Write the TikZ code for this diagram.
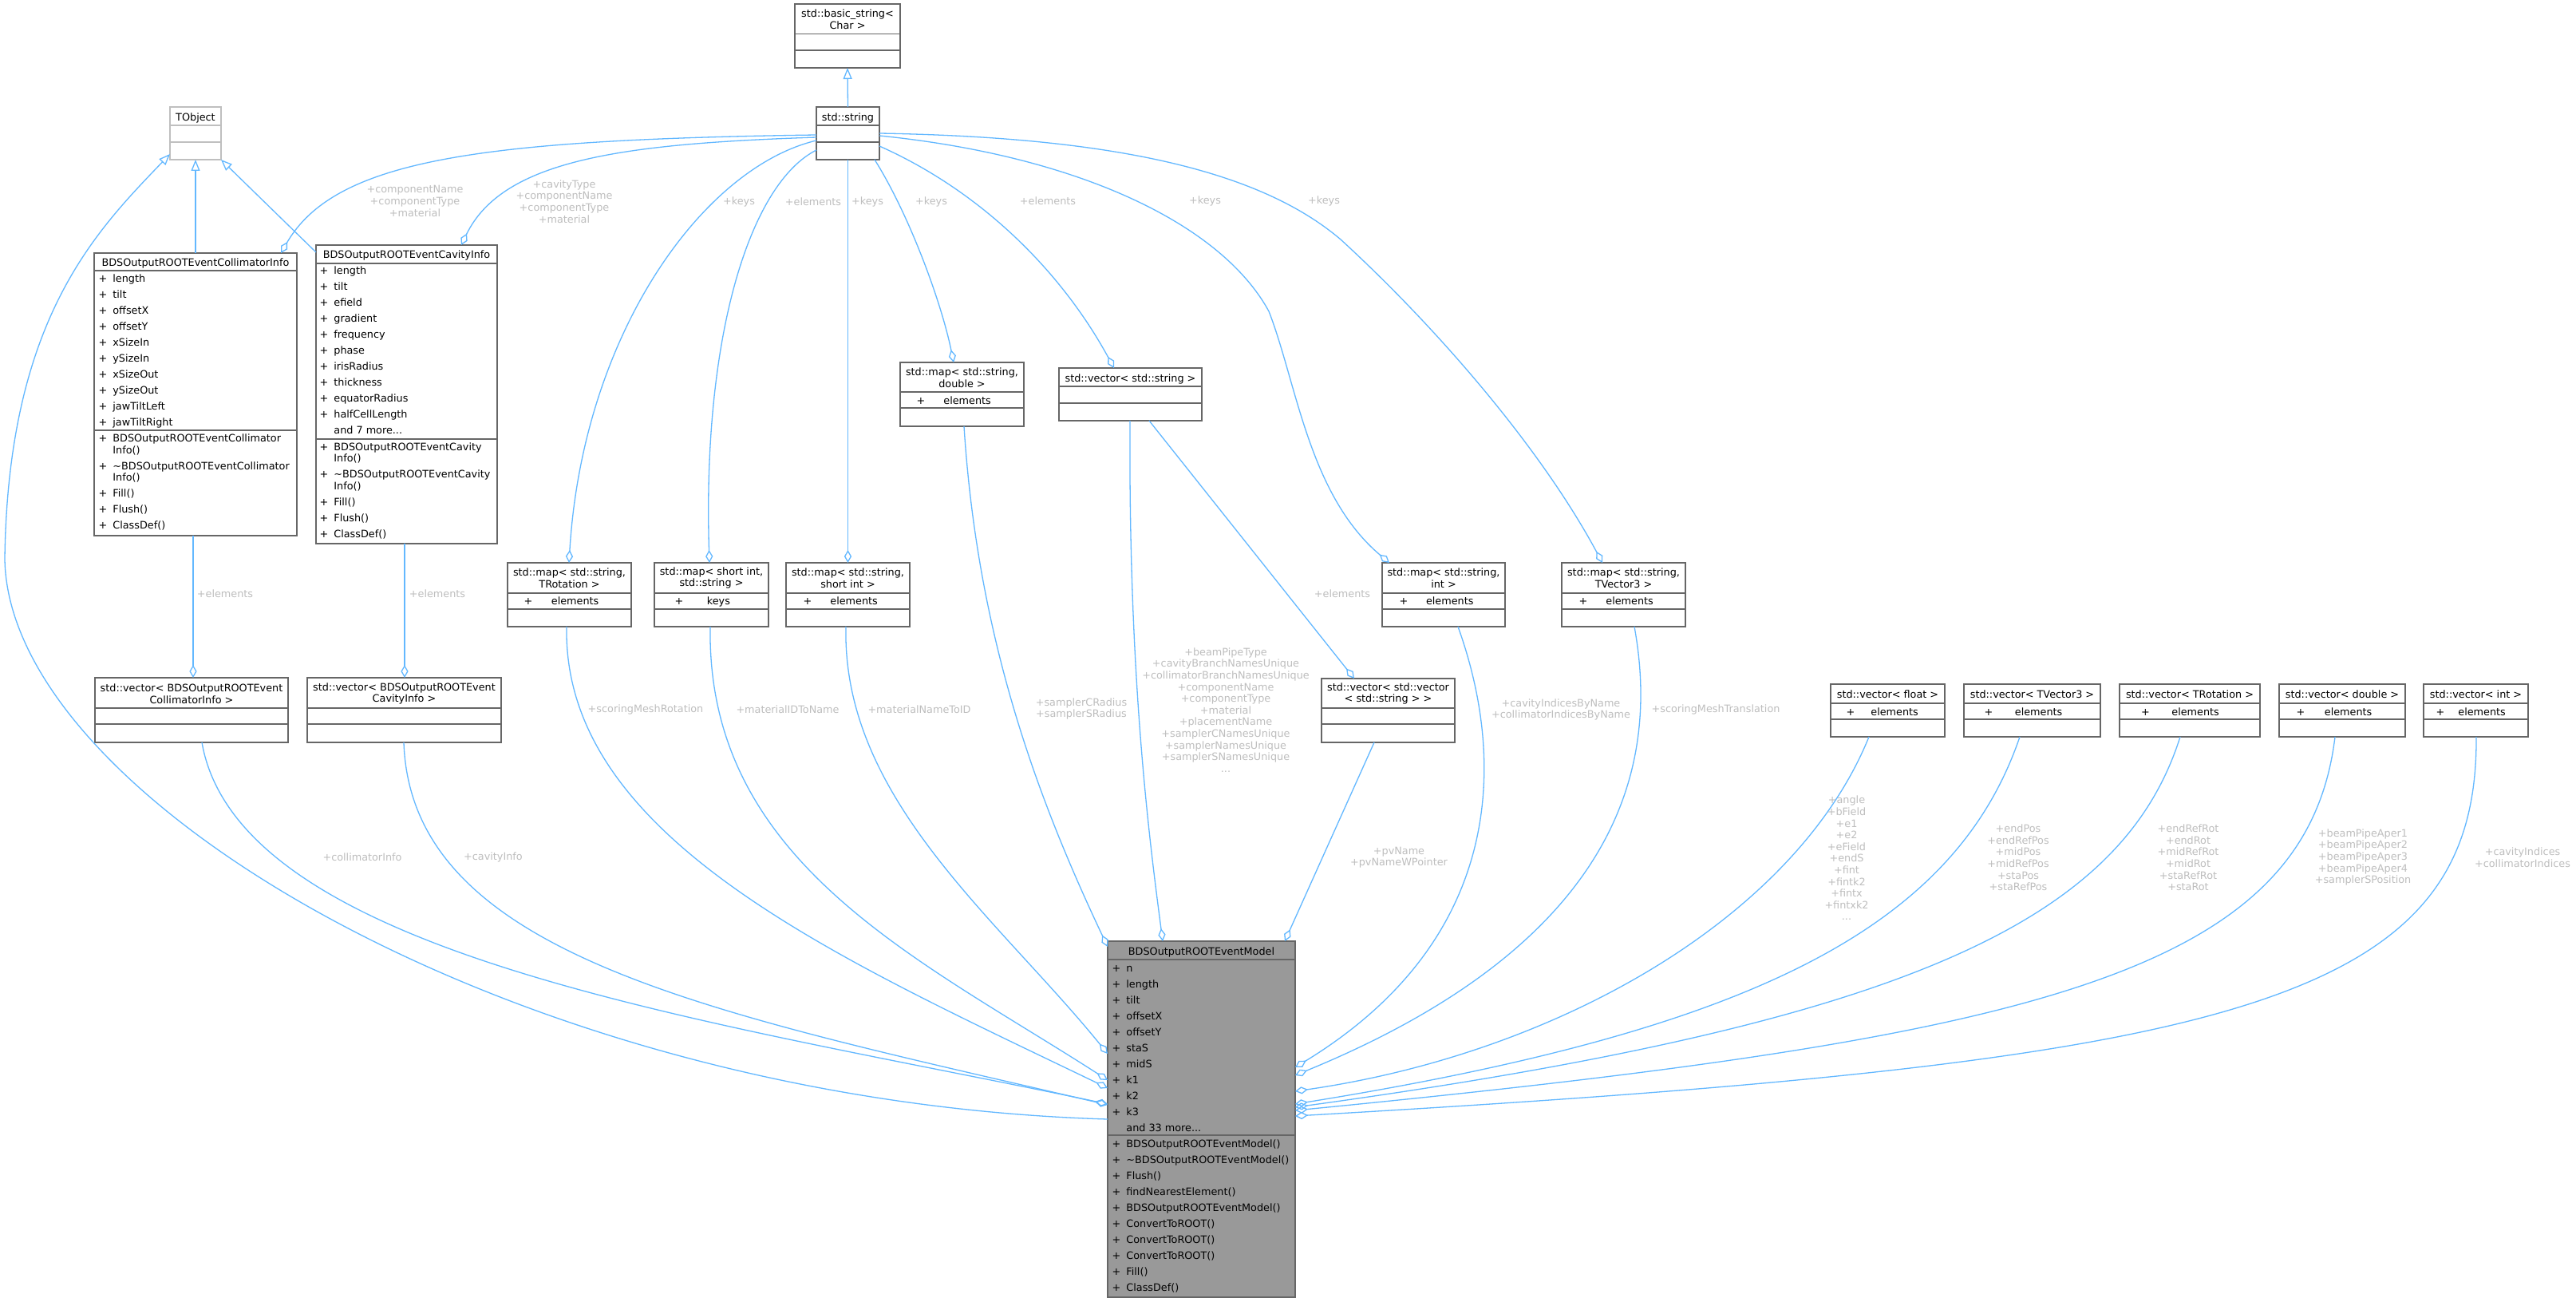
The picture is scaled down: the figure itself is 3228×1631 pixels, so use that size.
\documentclass[tikz,border=0pt]{standalone}
\usepackage{fontspec}
\setmainfont{DejaVu Sans}
\usetikzlibrary{arrows.meta}
\definecolor{edgec}{HTML}{63B8FF}
\definecolor{lblc}{HTML}{BEBEBE}
\definecolor{boxc}{HTML}{666666}
\definecolor{extc}{HTML}{BFBFBF}
\definecolor{modelc}{HTML}{999999}
\newcounter{tn}
\newcommand\nn{\stepcounter{tn}\edef\curname{t\arabic{tn}}}
\newcommand\ubox[6][]{\node[ubox,anchor=north west,minimum width={(#5-#3)*0.5pt},minimum height={(#6-#4)*0.5pt},#1] (#2) at (#3,#4) {};}
\newcommand\sep[3][boxc]{\draw[sepl,draw=#1] (#2.west |- 0,#3) -- (#2.east |- 0,#3);}
\newcommand\mem[4]{\nn\node[txt,anchor=mid] (\curname) at (#1,#3) {+};\nn\node[txt,anchor=mid west] (\curname) at (#2,#3) {#4};}
\newcommand\mtx[3]{\nn\node[txt,anchor=mid west] (\curname) at (#1,#2) {#3};}
\newcommand\ttl[3]{\nn\node[txt,align=center] (\curname) at (#1,#2) {#3};}
\newcommand\ttm[3]{\nn\node[txt,anchor=mid] (\curname) at (#1,#2) {#3};}
\newcommand\lab[3]{\nn\node[lbl] (\curname) at (#1,#2) {#3};}
\begin{document}
\begin{tikzpicture}[x=0.5pt,y=-0.5pt,
  ubox/.style={draw=boxc,line width=0.9pt,fill=white,rectangle,inner sep=0pt,outer sep=0pt},
  sepl/.style={line width=0.9pt},
  txt/.style={font=\fontsize{6.4}{7.3}\selectfont,inner sep=0pt,text=black},
  lbl/.style={font=\fontsize{6.4}{7.3}\selectfont,inner sep=0pt,text=lblc,align=center},
  conn/.style={draw=edgec,line width=0.65pt},
  agg/.style={conn,-{Diamond[open,length=8pt,width=4.6pt]}},
  inh/.style={conn,-{Triangle[open,length=7pt,width=5.5pt]}}]
\fill[white] (0,0) rectangle (3228,1631);
\useasboundingbox (0,0) rectangle (3228,1631);

% ---------- boxes ----------
\ubox{bs}{996}{5}{1128}{85}
\sep{bs}{42.5}\sep{bs}{63}
\ttl{1062}{24}{std::basic\_string<\\Char >}

\ubox[draw=extc]{tobj}{213}{134}{277}{200}
\sep[extc]{tobj}{157}\sep[extc]{tobj}{178}
\ttm{245}{146}{TObject}

\ubox{str}{1023}{134}{1102}{200}
\sep{str}{157}\sep{str}{178}
\ttm{1062.5}{146}{std::string}

\ubox{col}{118}{317}{372}{671}
\sep{col}{339}\sep{col}{539}
\ttm{245}{328}{BDSOutputROOTEventCollimatorInfo}
\mem{129}{141}{348}{length}
\mem{129}{141}{368}{tilt}
\mem{129}{141}{388}{offsetX}
\mem{129}{141}{408}{offsetY}
\mem{129}{141}{428}{xSizeIn}
\mem{129}{141}{448}{ySizeIn}
\mem{129}{141}{468}{xSizeOut}
\mem{129}{141}{488}{ySizeOut}
\mem{129}{141}{508}{jawTiltLeft}
\mem{129}{141}{528}{jawTiltRight}
\mem{129}{141}{548}{BDSOutputROOTEventCollimator}
\mtx{141}{563}{Info()}
\mem{129}{141}{583}{\textasciitilde BDSOutputROOTEventCollimator}
\mtx{141}{597}{Info()}
\mem{129}{141}{617}{Fill()}
\mem{129}{141}{637}{Flush()}
\mem{129}{141}{657}{ClassDef()}

\ubox{cav}{396}{307}{623}{681}
\sep{cav}{330}\sep{cav}{550}
\ttm{509.5}{318.5}{BDSOutputROOTEventCavityInfo}
\mem{406}{418}{338}{length}
\mem{406}{418}{358}{tilt}
\mem{406}{418}{378}{efield}
\mem{406}{418}{398}{gradient}
\mem{406}{418}{418}{frequency}
\mem{406}{418}{438}{phase}
\mem{406}{418}{458}{irisRadius}
\mem{406}{418}{478}{thickness}
\mem{406}{418}{498}{equatorRadius}
\mem{406}{418}{518}{halfCellLength}
\mtx{418}{538}{and 7 more...}
\mem{406}{418}{559}{BDSOutputROOTEventCavity}
\mtx{418}{573}{Info()}
\mem{406}{418}{593}{\textasciitilde BDSOutputROOTEventCavity}
\mtx{418}{608}{Info()}
\mem{406}{418}{628}{Fill()}
\mem{406}{418}{648}{Flush()}
\mem{406}{418}{668}{ClassDef()}

\ubox{mrot}{636}{705}{791}{785}
\sep{mrot}{743}\sep{mrot}{763}
\ttl{713.5}{724}{std::map< std::string,\\TRotation >}
\mem{662}{690.5}{752}{elements}

\ubox{msi}{820}{705}{963}{785}
\sep{msi}{743}\sep{msi}{763}
\ttl{891.5}{724}{std::map< short int,\\std::string >}
\mem{851}{885.5}{752}{keys}

\ubox{mss}{985}{705}{1140}{785}
\sep{mss}{743}\sep{mss}{763}
\ttl{1062.5}{724}{std::map< std::string,\\short int >}
\mem{1012}{1040}{752}{elements}

\ubox{msd}{1128}{454}{1283}{534}
\sep{msd}{491}\sep{msd}{511}
\ttl{1205.5}{473}{std::map< std::string,\\double >}
\mem{1154}{1182}{501}{elements}

\ubox{vs}{1327}{461}{1506}{527}
\sep{vs}{484}\sep{vs}{505}
\ttm{1416.5}{473}{std::vector< std::string >}

\ubox{msint}{1732}{705}{1886}{785}
\sep{msint}{743}\sep{msint}{763}
\ttl{1809}{724}{std::map< std::string,\\int >}
\mem{1759}{1786.6}{752}{elements}

\ubox{mtv}{1957}{705}{2112}{785}
\sep{mtv}{743}\sep{mtv}{763}
\ttl{2034.5}{724}{std::map< std::string,\\TVector3 >}
\mem{1984}{2012}{752}{elements}

\ubox{vci}{119}{849}{361}{930}
\sep{vci}{887}\sep{vci}{907}
\ttl{240}{869}{std::vector< BDSOutputROOTEvent\\CollimatorInfo >}

\ubox{vca}{385}{849}{628}{930}
\sep{vca}{887}\sep{vca}{907}
\ttl{506.5}{869}{std::vector< BDSOutputROOTEvent\\CavityInfo >}

\ubox{vvs}{1656}{850}{1823}{930}
\sep{vvs}{887}\sep{vvs}{907}
\ttl{1739.5}{869}{std::vector< std::vector\\< std::string > >}

\ubox{vf}{2294}{857}{2437}{923}
\sep{vf}{881}\sep{vf}{901}
\ttm{2365.5}{869}{std::vector< float >}
\mem{2319}{2344}{891}{elements}

\ubox{vtv}{2461}{857}{2632}{923}
\sep{vtv}{881}\sep{vtv}{901}
\ttm{2546.5}{869}{std::vector< TVector3 >}
\mem{2492}{2524.5}{891}{elements}

\ubox{vtr}{2656}{857}{2832}{923}
\sep{vtr}{881}\sep{vtr}{901}
\ttm{2744}{869}{std::vector< TRotation >}
\mem{2688.5}{2721}{891}{elements}

\ubox{vd}{2856}{857}{3014}{923}
\sep{vd}{881}\sep{vd}{901}
\ttm{2935}{869}{std::vector< double >}
\mem{2883}{2912.5}{891}{elements}

\ubox{vi}{3037}{857}{3168}{923}
\sep{vi}{881}\sep{vi}{901}
\ttm{3102.5}{869}{std::vector< int >}
\mem{3058}{3080}{891}{elements}

\ubox[fill=modelc]{model}{1388}{1179}{1623}{1625}
\sep{model}{1202}\sep{model}{1422}
\ttm{1505.5}{1191}{BDSOutputROOTEventModel}
\mem{1399}{1411}{1212}{n}
\mem{1399}{1411}{1232}{length}
\mem{1399}{1411}{1252}{tilt}
\mem{1399}{1411}{1272}{offsetX}
\mem{1399}{1411}{1292}{offsetY}
\mem{1399}{1411}{1312}{staS}
\mem{1399}{1411}{1332}{midS}
\mem{1399}{1411}{1352}{k1}
\mem{1399}{1411}{1372}{k2}
\mem{1399}{1411}{1392}{k3}
\mtx{1411}{1412}{and 33 more...}
\mem{1399}{1411}{1432}{BDSOutputROOTEventModel()}
\mem{1399}{1411}{1452}{\textasciitilde BDSOutputROOTEventModel()}
\mem{1399}{1411}{1472}{Flush()}
\mem{1399}{1411}{1492}{findNearestElement()}
\mem{1399}{1411}{1512}{BDSOutputROOTEventModel()}
\mem{1399}{1411}{1532}{ConvertToROOT()}
\mem{1399}{1411}{1552}{ConvertToROOT()}
\mem{1399}{1411}{1572}{ConvertToROOT()}
\mem{1399}{1411}{1592}{Fill()}
\mem{1399}{1411}{1612}{ClassDef()}

% ---------- inheritance ----------
\draw[inh] (str.north) -- (bs.south);
\draw[inh] (col.north) -- (tobj.south);
\draw[inh] (cav.west |- 0,316) -- (tobj.south east);
\draw[inh] (model.west |- 0,1402) .. controls (650,1380) and (10,1000) .. (6,700)
  .. controls (10,400) and (120,290) .. (tobj.west |- 0,193);

% ---------- std::string aggregations ----------
\draw[agg] (str.west |- 0,169) .. controls (600,175) and (420,200) .. (col.north -| 352,0);
\draw[agg] (str.west |- 0,172) .. controls (780,180) and (630,200) .. (cav.north -| 578,0);
\draw[agg] (str.west |- 0,176) .. controls (880,210) and (730,420) .. (mrot.north -| 713,0);
\draw[agg] (str.west |- 0,188) .. controls (940,230) and (880,420) .. (msi.north -| 889,0);
\draw[agg] (str.south) -- (mss.north);
\draw[agg] (str.south -| 1096,0) .. controls (1140,270) and (1180,380) .. (msd.north -| 1195,0);
\draw[agg] (str.east |- 0,183) .. controls (1230,240) and (1330,340) .. (vs.north -| 1396,0);
\draw[agg] (str.east |- 0,170) .. controls (1350,195) and (1530,280) .. (1590,390)
  .. controls (1625,480) and (1640,620) .. (msint.north -| 1741,0);
\draw[agg] (str.east |- 0,167) .. controls (1400,172) and (1580,215) .. (1680,300)
  .. controls (1800,410) and (1930,560) .. (mtv.north -| 2008,0);

% ---------- other aggregations ----------
\draw[agg] (col.south -| 242,0) -- (vci.north -| 242,0);
\draw[agg] (cav.south -| 507,0) -- (vca.north -| 507,0);
\draw[agg] (vs.south -| 1440,0) -- (vvs.north -| 1697,0);
\draw[agg] (vvs.south -| 1722,0) -- (model.north -| 1610,0);
\draw[agg] (vs.south -| 1416,0) .. controls (1414,850) and (1440,1050) .. (model.north -| 1457,0);
\draw[agg] (msd.south -| 1208,0) .. controls (1225,800) and (1300,1000) .. (model.west |- 0,1186);
\draw[agg] (vci.south -| 253,0) .. controls (300,1200) and (900,1280) .. (model.west |- 0,1383);
\draw[agg] (vca.south -| 506,0) .. controls (515,1200) and (900,1270) .. (model.west |- 0,1384);
\draw[agg] (mrot.south -| 710,0) .. controls (705,1050) and (1050,1200) .. (model.west |- 0,1363);
\draw[agg] (msi.south -| 890,0) .. controls (885,1080) and (1150,1200) .. (model.west |- 0,1353);
\draw[agg] (mss.south -| 1060,0) .. controls (1055,1000) and (1250,1150) .. (model.west |- 0,1320);
\draw[agg] (msint.south -| 1827,0) .. controls (1890,960) and (1880,1180) .. (model.east |- 0,1337);
\draw[agg] (mtv.south -| 2048,0) .. controls (2080,960) and (2030,1180) .. (model.east |- 0,1347);
\draw[agg] (vf.south -| 2342,0) .. controls (2250,1150) and (1950,1320) .. (model.east |- 0,1367);
\draw[agg] (vtv.south -| 2531,0) .. controls (2450,1160) and (2200,1290) .. (model.east |- 0,1383);
\draw[agg] (vtr.south -| 2732,0) .. controls (2660,1150) and (2400,1280) .. (model.east |- 0,1387);
\draw[agg] (vd.south -| 2926,0) .. controls (2890,1220) and (2550,1300) .. (model.east |- 0,1391);
\draw[agg] (vi.south -| 3103,0) .. controls (3105,1260) and (2800,1330) .. (model.east |- 0,1398);

% ---------- labels ----------
\lab{520}{252}{+componentName\\+componentType\\+material}
\lab{707}{252.5}{+cavityType\\+componentName\\+componentType\\+material}
\lab{926}{253}{+keys}
\lab{1019}{253}{+elements}
\lab{1087}{253}{+keys}
\lab{1167}{253}{+keys}
\lab{1313}{252}{+elements}
\lab{1510}{252}{+keys}
\lab{1659}{252}{+keys}
\lab{282}{744}{+elements}
\lab{548}{744}{+elements}
\lab{1682}{744}{+elements}
\lab{809}{889}{+scoringMeshRotation}
\lab{987}{889}{+materialIDToName}
\lab{1152}{889}{+materialNameToID}
\lab{1355}{888}{+samplerCRadius\\+samplerSRadius}
\lab{1536}{889.5}{+beamPipeType\\+cavityBranchNamesUnique\\+collimatorBranchNamesUnique\\+componentName\\+componentType\\+material\\+placementName\\+samplerCNamesUnique\\+samplerNamesUnique\\+samplerSNamesUnique\\...}
\lab{1753}{1074}{+pvName\\+pvNameWPointer}
\lab{1956}{889}{+cavityIndicesByName\\+collimatorIndicesByName}
\lab{2150}{889}{+scoringMeshTranslation}
\lab{2314}{1075}{+angle\\+bField\\+e1\\+e2\\+eField\\+endS\\+fint\\+fintk2\\+fintx\\+fintxk2\\...}
\lab{2529}{1074.5}{+endPos\\+endRefPos\\+midPos\\+midRefPos\\+staPos\\+staRefPos}
\lab{2742}{1074.5}{+endRefRot\\+endRot\\+midRefRot\\+midRot\\+staRefRot\\+staRot}
\lab{2961}{1074}{+beamPipeAper1\\+beamPipeAper2\\+beamPipeAper3\\+beamPipeAper4\\+samplerSPosition}
\lab{3161}{1074}{+cavityIndices\\+collimatorIndices}
\lab{454}{1074}{+collimatorInfo}
\lab{618}{1074}{+cavityInfo}
\end{tikzpicture}
\end{document}
